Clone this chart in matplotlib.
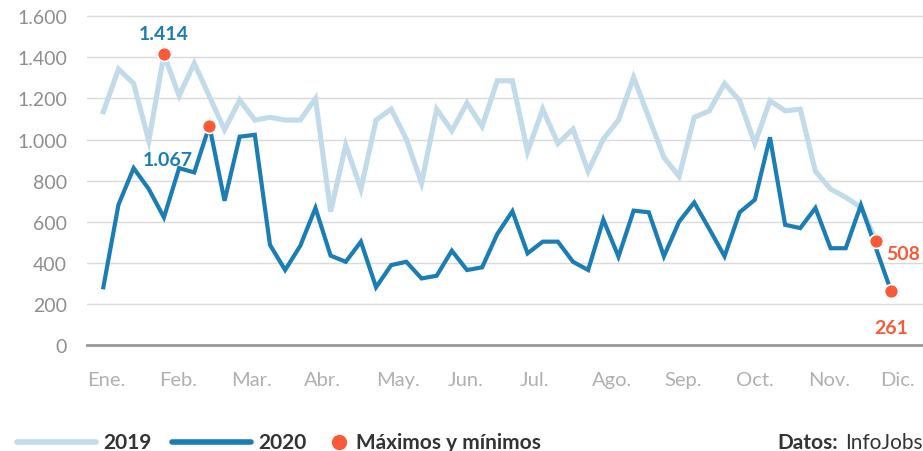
import numpy as np
import matplotlib
matplotlib.use("Agg")
import matplotlib.pyplot as plt
from matplotlib.lines import Line2D

plt.rcParams['font.family'] = ['Lato', 'DejaVu Sans']

# ofertas semanales (InfoJobs)
ofertas_2019 = [1135, 1343, 1273, 994, 1414, 1213, 1371, 1210, 1048, 1192,
                1095, 1108, 1095, 1095, 1200, 649, 973, 759, 1095, 1148,
                1002, 788, 1148, 1043, 1178, 1064, 1286, 1286, 941, 1148,
                981, 1051, 845, 1002, 1095, 1303, 1108, 913, 821, 1108,
                1140, 1273, 1189, 981, 1189, 1140, 1148, 845, 759, 719,
                670, 508]
ofertas_2020 = [281, 683, 861, 759, 621, 861, 840, 1067, 702, 1014,
                1023, 487, 365, 483, 667, 435, 405, 503, 281, 389,
                405, 324, 337, 459, 365, 378, 540, 651, 446, 503,
                503, 405, 365, 610, 430, 654, 646, 432, 600, 694,
                564, 432, 646, 707, 1011, 585, 569, 667, 471, 471,
                681, 470, 261]
meses = ['Ene.', 'Feb.', 'Mar.', 'Abr.', 'May.', 'Jun.',
         'Jul.', 'Ago.', 'Sep.', 'Oct.', 'Nov.', 'Dic.']
yticks = [0, 200, 400, 600, 800, 1000, 1200, 1400, 1600]

c19 = '#c2dbea'
c20 = '#1a7db5'
naranja = '#fa5a38'
texto = '#333333'

fig = plt.figure(figsize=[9.23, 4.52], dpi=100)
ax = fig.add_axes([0.0939, 0.2345, 0.9061, 0.75])

sem19 = np.arange(len(ofertas_2019))
sem20 = np.arange(len(ofertas_2020))
ax.plot(sem19, ofertas_2019, color=c19, lw=3.7, solid_joinstyle='miter', zorder=2)
ax.plot(sem20, ofertas_2020, color=c20, lw=3.0, solid_joinstyle='miter', zorder=3)

# maximos y minimos
i19max = int(np.argmax(ofertas_2019)); i19min = int(np.argmin(ofertas_2019))
i20max = int(np.argmax(ofertas_2020)); i20min = int(np.argmin(ofertas_2020))
puntos = [(i19max, ofertas_2019[i19max]), (i20max, ofertas_2020[i20max]),
          (i19min, ofertas_2019[i19min]), (i20min, ofertas_2020[i20min])]
for px, py in puntos:
    ax.plot(px, py, 'o', color=naranja, ms=10, mec='white', mew=1.2, zorder=5, clip_on=False)

def miles(v):
    return '{:,}'.format(v).replace(',', '.')

ax.annotate(miles(ofertas_2019[i19max]), (i19max, ofertas_2019[i19max]), xytext=(0, 9),
            textcoords='offset points', ha='center', va='bottom', color=c20,
            fontsize=14, fontweight='bold')
ax.annotate(miles(ofertas_2020[i20max]), (i20max, ofertas_2020[i20max]), xytext=(-30, -24),
            textcoords='offset points', ha='center', va='center', color=c20,
            fontsize=14, fontweight='bold')
ax.annotate(miles(ofertas_2019[i19min]), (i19min, ofertas_2019[i19min]), xytext=(7, -9),
            textcoords='offset points', ha='left', va='center', color=naranja,
            fontsize=14, fontweight='bold', annotation_clip=False)
ax.annotate(miles(ofertas_2020[i20min]), (i20min, ofertas_2020[i20min]), xytext=(0, -20),
            textcoords='offset points', ha='center', va='top', color=naranja,
            fontsize=14, fontweight='bold', annotation_clip=False)

ax.set_xlim(-1.1, 54.1)
ax.set_ylim(0, 1650)
ax.set_yticks(yticks)
ax.set_yticklabels([miles(v) for v in yticks], fontsize=14, color='#8e8e8e')
ax.tick_params(axis='y', length=0, pad=14)

# meses bajo el eje
ax.set_xticks([])
pos_meses = np.linspace(-1.06, 51.3, len(meses))
for xm, mes in zip(pos_meses, meses):
    ax.annotate(mes, xy=(xm, 0), xycoords=('data', 'axes fraction'), xytext=(0, -19),
                textcoords='offset points', ha='left', va='top', fontsize=14.5,
                color='#b0b0b0', annotation_clip=False)

ax.grid(axis='y', color='#dadada', lw=1.0)
ax.set_axisbelow(True)
for s in ['top', 'right', 'left']:
    ax.spines[s].set_visible(False)
ax.spines['bottom'].set_color('#999999')
ax.spines['bottom'].set_linewidth(2)
ax.spines['bottom'].set_zorder(1)

# leyenda
ly = 1 - 443 / 452
fig.add_artist(Line2D([17 / 923, 96 / 923], [ly, ly], color=c19, lw=4, solid_capstyle='round'))
fig.text(103 / 923, ly, '2019', fontsize=15, fontweight='bold', color=texto, va='center')
fig.add_artist(Line2D([172 / 923, 251 / 923], [ly, ly], color=c20, lw=4, solid_capstyle='round'))
fig.text(258 / 923, ly, '2020', fontsize=15, fontweight='bold', color=texto, va='center')
fig.add_artist(Line2D([339 / 923], [ly], marker='o', color=naranja, ms=10, lw=0))
fig.text(356 / 923, ly, 'Máximos y mínimos', fontsize=15, fontweight='bold', color=texto, va='center')
fig.text(838 / 923, ly, 'Datos:', fontsize=15, fontweight='bold', color=texto, va='center', ha='right')
fig.text(1.0, ly, 'InfoJobs', fontsize=15, color=texto, va='center', ha='right')

fig.savefig('out.png', dpi=100)
